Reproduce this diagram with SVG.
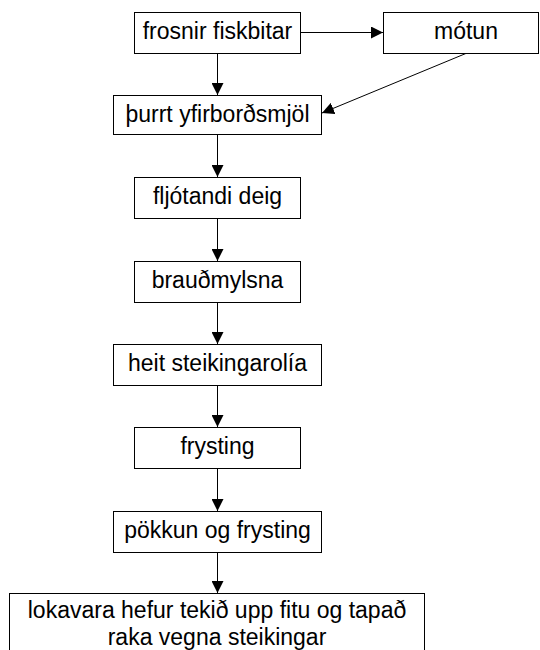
<svg xmlns="http://www.w3.org/2000/svg" width="540" height="650" viewBox="0 0 540 650">
<style>
.box{fill:#fff;stroke:#000;stroke-width:1}
.t{font-family:"Liberation Sans",Arial,sans-serif;font-size:23px;fill:#000;text-anchor:middle}
.c{stroke:#000;stroke-width:1;fill:none}
</style>
<defs>
<marker id="ah" viewBox="0 0 12 12" refX="12" refY="6" markerWidth="12" markerHeight="12" markerUnits="userSpaceOnUse" orient="auto">
<path d="M0,0 L12,6 L0,12 Z" fill="#000"/>
</marker>
</defs>
<rect width="540" height="650" fill="#fff"/>
<g id="connectors">
<line class="c" x1="301" y1="32.5" x2="383" y2="32.5" marker-end="url(#ah)"/>
<line class="c" x1="467" y1="53" x2="322" y2="113" marker-end="url(#ah)"/>
<line class="c" x1="217.5" y1="53" x2="217.5" y2="95" marker-end="url(#ah)"/>
<line class="c" x1="217.5" y1="134" x2="217.5" y2="177" marker-end="url(#ah)"/>
<line class="c" x1="217.5" y1="219" x2="217.5" y2="261" marker-end="url(#ah)"/>
<line class="c" x1="217.5" y1="303" x2="217.5" y2="344" marker-end="url(#ah)"/>
<line class="c" x1="217.5" y1="385" x2="217.5" y2="427" marker-end="url(#ah)"/>
<line class="c" x1="217.5" y1="469" x2="217.5" y2="511" marker-end="url(#ah)"/>
<line class="c" x1="217.5" y1="552" x2="217.5" y2="593" marker-end="url(#ah)"/>
</g>
<g id="n1"><rect class="box" x="134.5" y="12.5" width="166" height="41"/><text class="t" x="217.5" y="39">frosnir fiskbitar</text></g>
<g id="n2"><rect class="box" x="383.5" y="12.5" width="155" height="41"/><text class="t" x="466" y="39">mótun</text></g>
<g id="n3"><rect class="box" x="113.5" y="95.5" width="208" height="39"/><text class="t" x="217.5" y="121.5">þurrt yfirborðsmjöl</text></g>
<g id="n4"><rect class="box" x="134.5" y="177.5" width="166" height="41"/><text class="t" x="217.5" y="204">fljótandi deig</text></g>
<g id="n5"><rect class="box" x="134.5" y="261.5" width="166" height="41"/><text class="t" x="217.5" y="288">brauðmylsna</text></g>
<g id="n6"><rect class="box" x="113.5" y="344.5" width="208" height="41"/><text class="t" x="217.5" y="371">heit steikingarolía</text></g>
<g id="n7"><rect class="box" x="134.5" y="427.5" width="166" height="41"/><text class="t" x="217.5" y="454">frysting</text></g>
<g id="n8"><rect class="box" x="113.5" y="511.5" width="208" height="41"/><text class="t" x="217.5" y="538">pökkun og frysting</text></g>
<g id="n9"><rect class="box" x="9.5" y="593.5" width="415" height="70"/><text class="t" x="217" y="618">lokavara hefur tekið upp fitu og tapað</text><text class="t" x="217" y="645">raka vegna steikingar</text></g>
</svg>
